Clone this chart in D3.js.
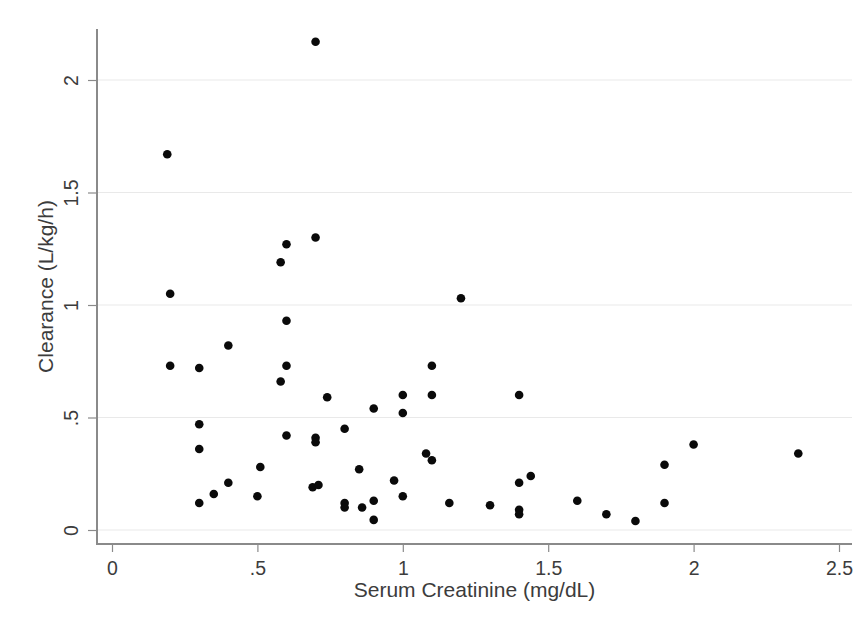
<!DOCTYPE html>
<html>
<head>
<meta charset="utf-8">
<script src="https://cdn.jsdelivr.net/npm/d3@7/dist/d3.min.js"></script>
<style>
  html, body { margin: 0; padding: 0; background: #fff; }
  svg { display: block; }
  text { font-family: "Liberation Sans", Arial, sans-serif; }
</style>
</head>
<body>
<svg id="chart" width="865" height="626"></svg>
<script>
// Serum creatinine (mg/dL) for each patient
const creatinine = [
  0.19, 0.2, 0.2, 0.3, 0.4, 0.3, 0.3, 0.3, 0.35, 0.4, 0.5, 0.51,
  0.6, 0.58, 0.6, 0.7, 0.7, 0.69, 0.71, 0.74, 0.8, 0.8, 0.8,
  0.9, 0.85, 0.86, 0.9, 0.9, 0.97, 1.0, 1.0, 1.0, 1.1, 1.1, 1.08, 1.1,
  1.16, 1.2, 1.3, 1.4, 1.4, 1.44, 1.4, 1.4, 1.6, 1.7, 1.8, 1.9, 1.9,
  2.0, 2.36, 0.7, 0.7, 0.6, 0.58, 0.6
];
// Drug clearance (L/kg/h) for the same patients
const clearance = [
  1.67, 1.05, 0.73, 0.72, 0.82, 0.47, 0.36, 0.12, 0.16, 0.21, 0.15, 0.28,
  0.73, 0.66, 0.42, 0.41, 0.39, 0.19, 0.2, 0.59, 0.45, 0.12, 0.1,
  0.54, 0.27, 0.1, 0.13, 0.045, 0.22, 0.6, 0.52, 0.15, 0.73, 0.6, 0.34, 0.31,
  0.12, 1.03, 0.11, 0.6, 0.21, 0.24, 0.09, 0.07, 0.13, 0.07, 0.04, 0.12, 0.29,
  0.38, 0.34, 2.17, 1.3, 1.27, 1.19, 0.93
];

const xTicks = [0, 0.5, 1, 1.5, 2, 2.5];
const yTicks = [0, 0.5, 1, 1.5, 2];
const xTitle = "Serum Creatinine (mg/dL)";
const yTitle = "Clearance (L/kg/h)";

// Stata-style labels: drop the leading zero of decimals (".5")
const fmt = v => (v === 0 ? "0" : String(v).replace(/^0\./, "."));

const svg = d3.select("#chart");

const plot = { left: 97, right: 852, top: 29, bottom: 544 };
const x = d3.scaleLinear().domain([0, 2.5]).range([112, 839]);
const y = d3.scaleLinear().domain([0, 2]).range([530, 80]);

const axisColor = "#8a8a8a";
const textColor = "#3c3c3c";

// horizontal grid lines
svg.append("g")
  .selectAll("line")
  .data(yTicks)
  .join("line")
  .attr("x1", plot.left + 1)
  .attr("x2", plot.right)
  .attr("y1", d => y(d))
  .attr("y2", d => y(d))
  .attr("stroke", "#e9e9e9")
  .attr("stroke-width", 1.2);

// y axis
const yAxis = svg.append("g")
  .attr("transform", `translate(${plot.left},0)`)
  .call(d3.axisLeft(y).tickValues(yTicks).tickFormat(fmt).tickSize(9).tickPadding(0));
yAxis.select(".domain").remove();
yAxis.selectAll(".tick line").attr("stroke", axisColor).attr("stroke-width", 1.2);
yAxis.selectAll(".tick text")
  .attr("x", null).attr("dy", null)
  .attr("transform", "translate(-26,0) rotate(-90)")
  .attr("text-anchor", "middle")
  .attr("dominant-baseline", "central")
  .attr("fill", textColor)
  .style("font-size", "19.5px");

// x axis
const xAxis = svg.append("g")
  .attr("transform", `translate(0,${plot.bottom})`)
  .call(d3.axisBottom(x).tickValues(xTicks).tickFormat(fmt).tickSize(8).tickPadding(0));
xAxis.select(".domain").remove();
xAxis.selectAll(".tick line").attr("stroke", axisColor).attr("stroke-width", 1.2);
xAxis.selectAll(".tick text")
  .attr("y", 24).attr("dy", null)
  .attr("dominant-baseline", "central")
  .attr("fill", textColor)
  .style("font-size", "19.5px");

// axis lines
svg.append("line")
  .attr("x1", plot.left).attr("x2", plot.left)
  .attr("y1", plot.top).attr("y2", plot.bottom + 1)
  .attr("stroke", axisColor).attr("stroke-width", 2);
svg.append("line")
  .attr("x1", plot.left).attr("x2", plot.right)
  .attr("y1", plot.bottom).attr("y2", plot.bottom)
  .attr("stroke", axisColor).attr("stroke-width", 2);

// axis titles
svg.append("text")
  .attr("x", (plot.left + plot.right) / 2)
  .attr("y", 597)
  .attr("text-anchor", "middle")
  .attr("fill", textColor)
  .style("font-size", "21px")
  .text(xTitle);

svg.append("text")
  .attr("transform", `translate(53,${(plot.top + plot.bottom) / 2}) rotate(-90)`)
  .attr("text-anchor", "middle")
  .attr("fill", textColor)
  .style("font-size", "21px")
  .text(yTitle);

// data points
svg.append("g")
  .selectAll("circle")
  .data(d3.zip(creatinine, clearance))
  .join("circle")
  .attr("cx", d => x(d[0]))
  .attr("cy", d => y(d[1]))
  .attr("r", 4.3)
  .attr("fill", "#0a0a0a");
</script>
</body>
</html>
